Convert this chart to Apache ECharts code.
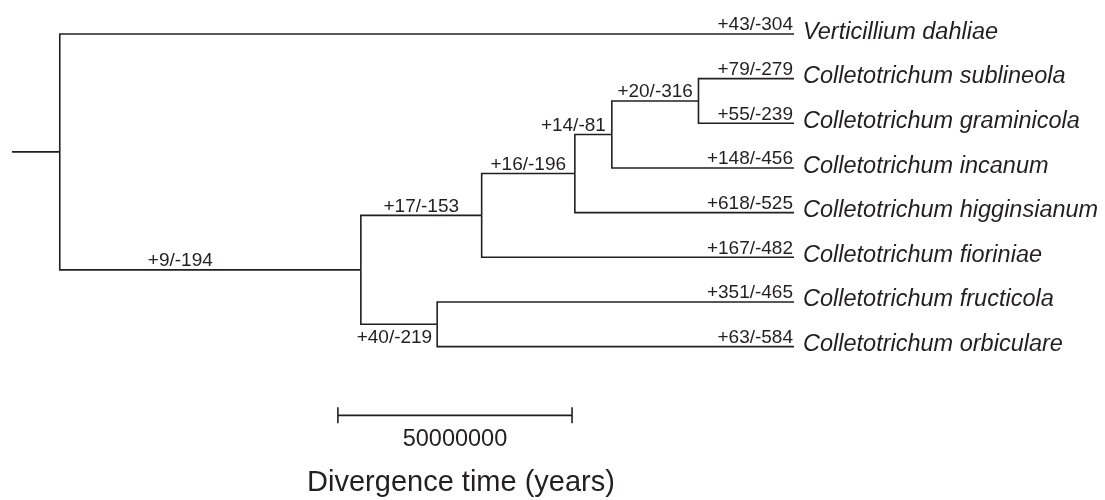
<!DOCTYPE html>
<html>
<head>
<meta charset="utf-8">
<script src="https://cdn.jsdelivr.net/npm/echarts@6/dist/echarts.min.js"></script>
<style>
  html, body { margin: 0; padding: 0; background: #fff; }
  #chart { width: 1105px; height: 500px; }
</style>
</head>
<body>
<div id="chart"></div>
<script>
// leaves, top to bottom
const taxa = [
  "Verticillium dahliae",
  "Colletotrichum sublineola",
  "Colletotrichum graminicola",
  "Colletotrichum incanum",
  "Colletotrichum higginsianum",
  "Colletotrichum fioriniae",
  "Colletotrichum fructicola",
  "Colletotrichum orbiculare",
];
const taxaGainLoss = ["+43/-304", "+79/-279", "+55/-239", "+148/-456", "+618/-525", "+167/-482", "+351/-465", "+63/-584"];
const taxaParent = ["root", "E", "E", "D", "C", "B", "F", "F"];

// internal nodes, ages in million years before present
const nodeNames = ["root", "A", "B", "C", "D", "E", "F"];
const nodeAges = [156.8, 92.5, 66.7, 46.8, 38.9, 20.4, 76.2];
const nodeParent = [null, "root", "A", "B", "C", "D", "A"];
const nodeGainLoss = [null, "+9/-194", "+17/-153", "+16/-196", "+14/-81", "+20/-316", "+40/-219"];
const rootStubAge = 167;

const scaleBarLength = 50; // million years
const scaleBarLabel = "50000000";

const ink = "#231f20";
const fontFamily = "'Liberation Sans', Arial, Helvetica, sans-serif";

// y of a leaf is its row, y of a node is the middle of its children
const nodeY = {};
function childrenOf(name) {
  const kids = [];
  nodeNames.forEach((n, i) => { if (nodeParent[i] === name) kids.push({ type: "node", name: n }); });
  taxa.forEach((t, i) => { if (taxaParent[i] === name) kids.push({ type: "leaf", idx: i }); });
  return kids;
}
function layoutY(name) {
  const ys = childrenOf(name).map((k) => (k.type === "leaf" ? k.idx : layoutY(k.name)));
  nodeY[name] = (Math.min(...ys) + Math.max(...ys)) / 2;
  return nodeY[name];
}
layoutY("root");
const ageOf = (name) => nodeAges[nodeNames.indexOf(name)];

const branches = [];
nodeNames.forEach((n, i) => {
  if (!nodeParent[i]) return;
  branches.push({ key: n, pAge: ageOf(nodeParent[i]), pY: nodeY[nodeParent[i]], cAge: nodeAges[i], cY: nodeY[n], gl: nodeGainLoss[i], taxon: null });
});
taxa.forEach((t, i) => {
  branches.push({ key: "leaf", pAge: ageOf(taxaParent[i]), pY: nodeY[taxaParent[i]], cAge: 0, cY: i, gl: taxaGainLoss[i], taxon: t });
});

// hand placement of a few gain/loss labels
const labelPlace = {
  A: { align: "center", dx: -30 },
  D: { align: "right", dx: -6 },
  F: { align: "right", dx: -5, below: true },
  leaf: { align: "right", dx: -1 },
};

const chart = echarts.init(document.getElementById("chart"));

function renderBranch(params, api) {
  const b = branches[params.dataIndex];
  const p0 = api.coord([b.pAge, b.pY]);
  const p1 = api.coord([b.pAge, b.cY]);
  const p2 = api.coord([b.cAge, b.cY]);
  const place = labelPlace[b.key] || { align: "center", dx: 0 };
  let lx = place.align === "center" ? (p1[0] + p2[0]) / 2 : p2[0];
  lx += place.dx;
  const children = [
    {
      type: "polyline",
      shape: { points: [p0, p1, p2] },
      style: { stroke: ink, lineWidth: 1.6, fill: "none" },
    },
    {
      type: "text",
      x: lx,
      y: place.below ? p2[1] + 4 : p2[1] + 0.5,
      style: {
        text: b.gl,
        fill: ink,
        font: "19px " + fontFamily,
        align: place.align,
        verticalAlign: place.below ? "top" : "bottom",
      },
    },
  ];
  if (b.taxon) {
    children.push({
      type: "text",
      x: p2[0] + 9,
      y: p2[1] - 2,
      style: {
        text: b.taxon,
        fill: ink,
        font: "italic 23.5px " + fontFamily,
        align: "left",
        verticalAlign: "middle",
      },
    });
  }
  return { type: "group", children: children };
}

function renderStub(params, api) {
  const a = api.coord([rootStubAge, nodeY.root]);
  const b = api.coord([ageOf("root"), nodeY.root]);
  return {
    type: "line",
    shape: { x1: a[0], y1: a[1], x2: b[0], y2: b[1] },
    style: { stroke: ink, lineWidth: 1.6 },
  };
}

function renderScaleBar(params, api) {
  const start = 97.4;
  const row = 8.54;
  const a = api.coord([start, row]);
  const b = api.coord([start - scaleBarLength, row]);
  const line = (x1, y1, x2, y2) => ({
    type: "line",
    shape: { x1: x1, y1: y1, x2: x2, y2: y2 },
    style: { stroke: ink, lineWidth: 1.6 },
  });
  return {
    type: "group",
    children: [
      line(a[0], a[1], b[0], b[1]),
      line(a[0], a[1] - 8, a[0], a[1] + 8),
      line(b[0], b[1] - 8, b[0], b[1] + 8),
      {
        type: "text",
        x: (a[0] + b[0]) / 2,
        y: a[1] + 24,
        style: {
          text: scaleBarLabel,
          fill: ink,
          font: "23.5px " + fontFamily,
          align: "center",
          verticalAlign: "middle",
        },
      },
    ],
  };
}

const option = {
  animation: false,
  backgroundColor: "#fff",
  title: {
    text: "Divergence time (years)",
    left: 456,
    top: 463,
    textAlign: "center",
    textStyle: { color: ink, fontSize: 29, fontWeight: "normal", fontFamily: fontFamily },
  },
  grid: { left: 12, right: 311, top: 34, bottom: 153.4 },
  xAxis: { type: "value", min: 0, max: rootStubAge, inverse: true, show: false },
  yAxis: { type: "value", min: 0, max: taxa.length - 1, inverse: true, show: false },
  series: [
    {
      type: "custom",
      renderItem: renderStub,
      data: [[rootStubAge, 0]],
      silent: true,
    },
    {
      type: "custom",
      renderItem: renderBranch,
      data: branches.map((b) => [b.cAge, b.cY]),
      silent: true,
    },
    {
      type: "custom",
      renderItem: renderScaleBar,
      data: [[0, 0]],
      silent: true,
    },
  ],
};
chart.setOption(option);
</script>
</body>
</html>
